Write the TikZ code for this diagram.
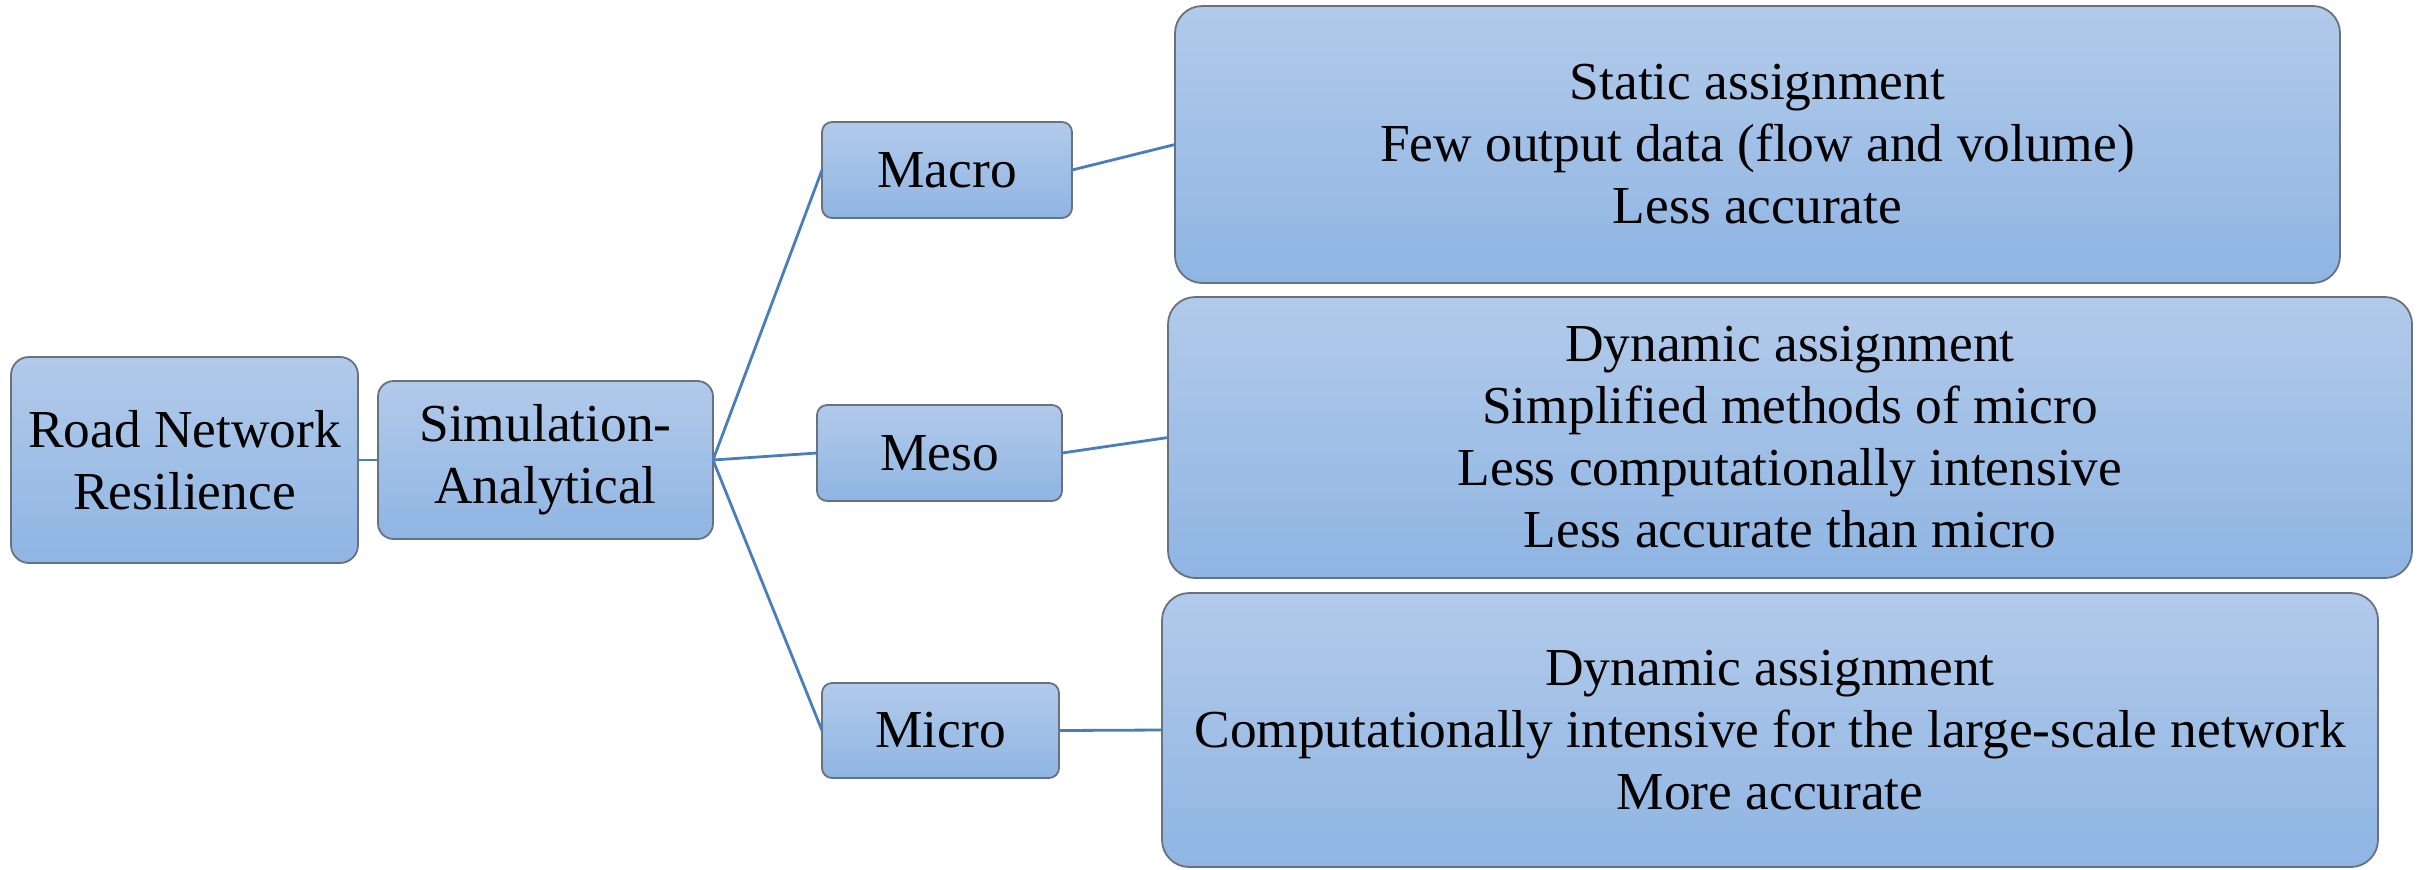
\documentclass[tikz,border=0pt]{standalone}
\usepackage{fontspec}
\setmainfont{Liberation Serif}
\definecolor{boxtop}{RGB}{178,202,234}
\definecolor{boxbot}{RGB}{143,181,227}
\definecolor{boxedge}{RGB}{105,114,124}
\definecolor{linkblue}{RGB}{74,126,187}
\tikzset{
  card/.style={draw=boxedge, line width=0.45pt, top color=boxtop, bottom color=boxbot,
    inner sep=0pt, outer sep=0pt, align=center,
    font=\fontsize{13.35}{15.5}\selectfont},
  smallcard/.style={card, rounded corners=2.5pt},
  midcard/.style={card, rounded corners=4.5pt},
  bigcard/.style={card, rounded corners=6.8pt},
  link/.style={draw=linkblue, line width=0.7pt}
}
\begin{document}
\begin{tikzpicture}[x=0.25pt, y=-0.25pt]
\useasboundingbox (0,0) rectangle (2420,869);

% root and second level
\node[midcard, minimum width=86.75pt, minimum height=51.5pt] (road) at (184.5,460) {Road Network\\Resilience};
\node[midcard, rounded corners=3.9pt, minimum width=83.75pt, minimum height=39.5pt] (sim) at (545.5,460) {Simulation-\\Analytical};

% model scales
\node[smallcard, minimum width=62.5pt, minimum height=24pt] (macro) at (947,170) {Macro};
\node[smallcard, minimum width=61.25pt, minimum height=24pt] (meso) at (939.5,453) {Meso};
\node[smallcard, minimum width=59.25pt, minimum height=23.75pt] (micro) at (940.5,730.5) {Micro};

% descriptions
\node[bigcard, minimum width=291.25pt, minimum height=69.25pt] (macrodesc) at (1757.5,144.5)
  {Static assignment\\Few output data (flow and volume)\\Less accurate};
\node[bigcard, minimum width=311pt, minimum height=70.25pt] (mesodesc) at (1790,437.5)
  {Dynamic assignment\\Simplified methods of micro\\Less computationally intensive\\Less accurate than micro};
\node[bigcard, minimum width=304pt, minimum height=68.5pt] (microdesc) at (1770,730)
  {Dynamic assignment\\Computationally intensive for the large-scale network\\More accurate};

% connectors
\draw[link] (road.east) -- (sim.west);
\draw[link] (sim.east) -- (macro.west);
\draw[link] (sim.east) -- (meso.west);
\draw[link] (sim.east) -- (micro.west);
\draw[link] (macro.east) -- (macrodesc.west);
\draw[link] (meso.east) -- (mesodesc.west);
\draw[link] (micro.east) -- (microdesc.west);
\end{tikzpicture}
\end{document}
